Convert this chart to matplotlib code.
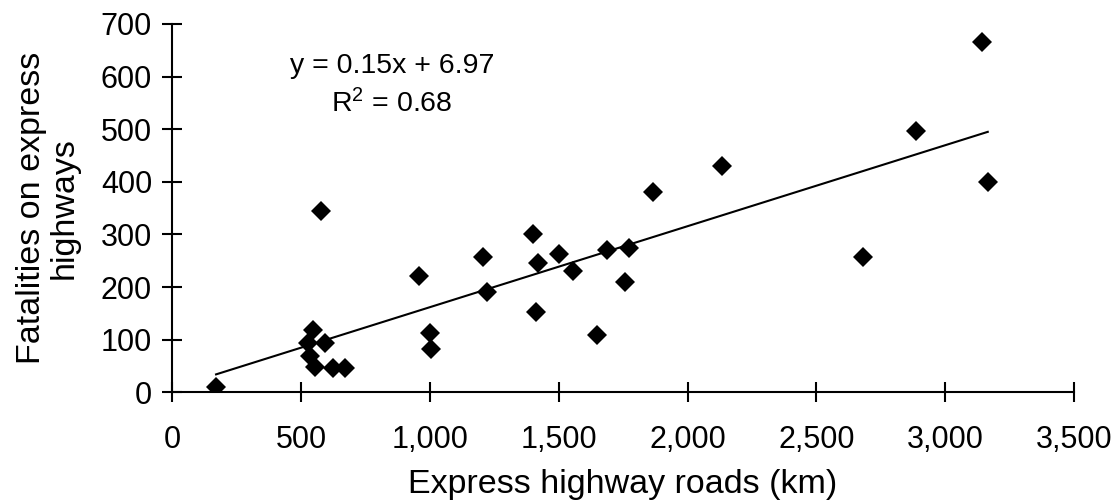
import numpy as np
import matplotlib
matplotlib.use("Agg")
import matplotlib.pyplot as plt
from matplotlib.ticker import FuncFormatter

plt.rcParams['font.family'] = ['Liberation Sans', 'DejaVu Sans']
plt.rcParams['mathtext.default'] = 'regular'

# express highway length (km) vs fatalities
roads_km = [170, 547, 528, 593, 534, 554, 625, 670, 576, 957, 1000, 1004,
            1207, 1223, 1401, 1420, 1410, 1501, 1556, 1648, 1686, 1757, 1772,
            1864, 2135, 2680, 2886, 3141, 3165]
fatalities = [11, 118, 93, 93, 69, 49, 46, 46, 344, 221, 112, 82,
              257, 190, 301, 246, 153, 263, 231, 109, 271, 210, 274,
              380, 430, 258, 496, 665, 400]

x_ticks = [0, 500, 1000, 1500, 2000, 2500, 3000, 3500]
y_ticks = [0, 100, 200, 300, 400, 500, 600, 700]

fs_note = 20.5
fs_tick = 22
fs_title = 24.5

fig = plt.figure(figsize=(11.2, 5.04), dpi=100)
ax = fig.add_axes([0.1538, 0.2216, 0.8052, 0.7308])

ax.plot(roads_km, fatalities, linestyle='none', marker='D', markersize=10.5,
        color='black', markeredgewidth=0, zorder=3)

# linear trendline over the data range
slope, icpt = np.polyfit(roads_km, fatalities, 1)
xs = np.array([min(roads_km), max(roads_km)])
ax.plot(xs, slope * xs + icpt, color='black', lw=1.5, zorder=2)

ax.text(853, 621, 'y = 0.15x + 6.97', ha='center', va='center', fontsize=fs_note)
ax.text(853, 548, 'R$^2$ = 0.68', ha='center', va='center', fontsize=fs_note)

ax.set_xlim(0, 3500)
ax.set_ylim(0, 700)
ax.set_xticks(x_ticks)
ax.set_yticks(y_ticks)
ax.xaxis.set_major_formatter(FuncFormatter(lambda v, p: '{:,.0f}'.format(v)))

ax.spines['right'].set_visible(False)
ax.spines['top'].set_visible(False)
for s in ['left', 'bottom']:
    ax.spines[s].set_linewidth(1.5)
ax.tick_params(direction='inout', length=15, width=1.5, labelsize=fs_tick, pad=7)
ax.tick_params(axis='x', pad=16)

fig.text(623 / 1120, 1 - 484 / 504, 'Express highway roads (km)',
         ha='center', va='center', fontsize=fs_title)
fig.text(48 / 1120, 1 - 208 / 504, 'Fatalities on express\nhighways',
         ha='center', va='center', rotation=90, fontsize=fs_title,
         multialignment='center', linespacing=1.05)

fig.savefig('out.png', dpi=100)
